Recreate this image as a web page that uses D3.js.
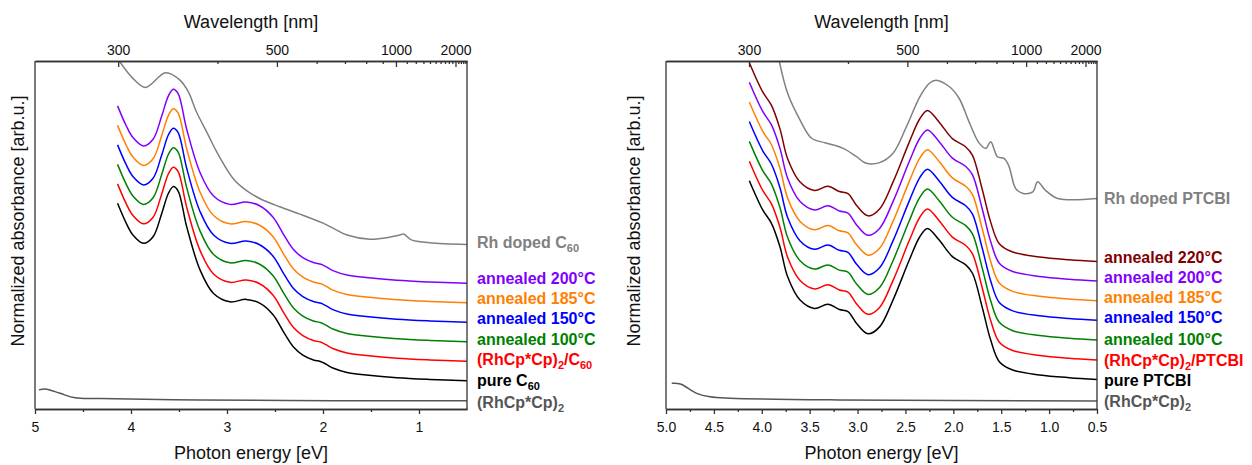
<!doctype html>
<html lang="en">
<head>
<meta charset="utf-8">
<title>Absorbance spectra C60 / PTCBI</title>
<script src="https://cdn.jsdelivr.net/npm/d3@7"></script>
<style>
  body { margin: 0; background: #fff; }
  svg text { font-family: Arial, "Liberation Sans", sans-serif; fill: #111; }
  .axis path, .axis line { stroke: #333; stroke-width: 1.3px; }
  .axis text { font-size: 14px; fill: #111; font-family: Arial, "Liberation Sans", sans-serif; }
  .title { font-size: 18px; }
  .lbl { font-size: 16px; font-weight: bold; }
  .spec { fill: none; stroke-width: 1.5px; stroke-linejoin: round; }
</style>
</head>
<body>
<svg id="fig" width="1252" height="465"></svg>
<script>
// ---- data: photon energy [eV], absorbance [arb.u., 0..100 = plot height] ----

// left panel: C60
const pureC60 = [[4.14,59.1],[4.05,53.4],[3.98,50.0],[3.87,47.6],[3.77,49.5],[3.68,56.2],[3.61,62.0],
  [3.56,63.9],[3.51,62.7],[3.42,52.4],[3.28,39.9],[3.14,33.2],[2.97,30.8],[2.80,31.5],[2.66,30.4],
  [2.52,27.1],[2.41,22.1],[2.31,17.9],[2.21,15.5],[2.10,14.1],[2.02,13.6],[1.97,12.9],[1.89,11.7],
  [1.75,10.5],[1.55,9.8],[1.23,9.0],[0.89,8.5],[0.5,8.1]];
const rhDopedC60 = [[4.13,100.3],[3.98,95.0],[3.85,92.4],[3.64,96.6],[3.49,94.5],[3.40,91.0],[3.32,85.5],
  [3.20,79.0],[3.11,74.0],[2.93,66.0],[2.80,62.8],[2.66,60.5],[2.45,58.1],[2.24,56.0],[2.00,53.4],
  [1.89,51.9],[1.75,50.0],[1.51,48.8],[1.30,49.4],[1.20,50.0],[1.16,50.3],[1.08,48.6],[0.89,47.8],[0.5,47.3]];
const rhcpLeft = [[4.96,5.5],[4.88,5.7],[4.74,4.5],[4.58,3.2],[4.32,3.0],[3.28,2.6],[1.89,2.4],[0.5,2.4]];
// stacked (offset) spectra, bottom to top
const c60Names = ["pure C_{60}", "(RhCp*Cp)_{2}/C_{60}", "annealed 100°C", "annealed 150°C", "annealed 185°C", "annealed 200°C"];
const c60Offsets = [0, 5.6, 11.2, 16.8, 22.4, 28.0];

// right panel: PTCBI
const purePTCBI = [[4.13,65.6],[3.99,57.2],[3.90,53.4],[3.81,46.6],[3.73,38.0],[3.60,31.3],[3.45,28.9],
  [3.31,30.1],[3.19,28.6],[3.10,28.0],[3.01,24.6],[2.89,21.6],[2.77,23.6],[2.63,31.3],[2.46,42.8],
  [2.35,49.5],[2.27,51.9],[2.15,48.6],[2.01,43.8],[1.87,41.4],[1.80,39.0],[1.70,29.4],[1.61,19.8],
  [1.52,13.6],[1.38,11.2],[1.10,9.8],[0.79,9.0],[0.5,8.5]];
const rhDopedPTCBI = [[3.82,100.3],[3.73,90.7],[3.60,83.0],[3.48,77.8],[3.34,76.5],[3.15,74.9],[3.01,72.5],
  [2.91,70.6],[2.77,70.8],[2.63,73.5],[2.49,81.1],[2.35,89.7],[2.25,93.6],[2.18,94.5],[2.04,92.6],
  [1.94,89.3],[1.83,82.1],[1.73,76.4],[1.66,74.9],[1.61,76.8],[1.54,72.5],[1.47,72.0],[1.42,69.8],
  [1.35,63.4],[1.28,62.0],[1.17,62.4],[1.12,65.3],[1.04,62.9],[0.91,60.5],[0.5,60.5]];
const rhcpRight = [[4.94,7.4],[4.85,7.2],[4.68,4.5],[4.54,3.5],[4.33,3.1],[3.19,2.6],[0.5,2.3]];
const ptcbiNames = ["pure PTCBI", "(RhCp*Cp)_{2}/PTCBI", "annealed 100°C", "annealed 150°C", "annealed 185°C", "annealed 200°C", "annealed 220°C"];
const ptcbiOffsets = [0, 5.6, 11.3, 17.0, 22.6, 28.3, 33.9];

// top axis (wavelength, nm)
const nmMajor = [300, 500, 1000, 2000];
const nmMinor = d3.range(300, 2500, 100).filter(d => !nmMajor.includes(d));

// colours, bottom to top
const stackColors = ["#000000", "#ff0000", "#008000", "#0000ff", "#ff8000", "#8000ff", "#800000"];
const dopedColor = "#808080";
const rhcpColor = "#555555";

// ---- layout ----
const svg = d3.select("#fig");
const yTop = 61, yBot = 409;
const y = d3.scaleLinear().domain([0, 100]).range([yBot, yTop]);

const panels = [
  { x0: 35, x1: 467, ylab: 18, base: pureC60, names: c60Names, offs: c60Offsets,
    doped: rhDopedC60, dopedName: "Rh doped C_{60}", rhcp: rhcpLeft,
    bMajor: [5, 4, 3, 2, 1], bMinor: [4.5, 3.5, 2.5, 1.5], bFmt: d3.format("d"),
    labY: [381, 360, 340, 319, 299, 279], dopedY: 243, rhcpY: 403, labDx: 10 },
  { x0: 666, x1: 1097, ylab: 634, base: purePTCBI, names: ptcbiNames, offs: ptcbiOffsets,
    doped: rhDopedPTCBI, dopedName: "Rh doped PTCBI", rhcp: rhcpRight,
    bMajor: d3.range(5, 0.4, -0.5), bMinor: d3.range(4.75, 0.5, -0.5), bFmt: d3.format(".1f"),
    labY: [381, 361, 340, 318, 298, 278, 258], dopedY: 199, rhcpY: 402, labDx: 7 }
];

// "_{..}" -> subscript tspan
function richText(sel, str) {
  const parts = str.split(/(_\{[^}]*\})/).filter(s => s.length);
  let down = false;
  parts.forEach(p => {
    const sub = p.startsWith("_{");
    const t = sel.append("tspan").text(sub ? p.slice(2, -1) : p);
    if (sub) { t.attr("dy", 4).style("font-size", "11px"); down = true; }
    else if (down) { t.attr("dy", -4); down = false; }
  });
}

panels.forEach((p, i) => {
  const x = d3.scaleLinear().domain([5, 0.5]).range([p.x0, p.x1]);
  const line = d3.line().x(d => x(d[0])).y(d => y(d[1])).curve(d3.curveCatmullRom.alpha(0.5));

  svg.append("clipPath").attr("id", "clip" + i)
    .append("rect").attr("x", p.x0).attr("y", yTop).attr("width", p.x1 - p.x0).attr("height", yBot - yTop);

  const g = svg.append("g").attr("clip-path", `url(#clip${i})`);

  g.append("path").attr("class", "spec").attr("d", line(p.rhcp)).attr("stroke", rhcpColor);
  g.append("path").attr("class", "spec").attr("d", line(p.doped)).attr("stroke", dopedColor);
  p.offs.forEach((o, k) => {
    g.append("path").attr("class", "spec")
      .attr("d", line(p.base.map(d => [d[0], d[1] + o])))
      .attr("stroke", stackColors[k]);
  });

  // axes
  svg.append("g").attr("class", "axis").attr("transform", `translate(0,${yBot})`)
    .call(d3.axisBottom(x).tickValues(p.bMinor).tickFormat("").tickSizeInner(3).tickSizeOuter(0));
  svg.append("g").attr("class", "axis").attr("transform", `translate(0,${yBot})`)
    .call(d3.axisBottom(x).tickValues(p.bMajor).tickFormat(p.bFmt).tickSizeInner(5).tickSizeOuter(0).tickPadding(8));

  svg.append("g").attr("class", "axis").attr("transform", `translate(0,${yTop})`)
    .call(d3.axisTop(x).tickValues(nmMinor.map(n => 1240 / n)).tickFormat("").tickSizeInner(-3).tickSizeOuter(0));
  svg.append("g").attr("class", "axis").attr("transform", `translate(0,${yTop})`)
    .call(d3.axisTop(x).tickValues(nmMajor.map(n => 1240 / n)).tickFormat(d => Math.round(1240 / d))
      .tickSizeInner(-6).tickSizeOuter(0).tickPadding(6));

  [p.x0, p.x1].forEach(xx => {
    svg.append("line").attr("x1", xx).attr("x2", xx).attr("y1", yTop).attr("y2", yBot)
      .attr("stroke", "#333").attr("stroke-width", 1.3);
  });

  // titles
  const cx = (p.x0 + p.x1) / 2;
  svg.append("text").attr("class", "title").attr("x", cx).attr("y", 28).attr("text-anchor", "middle").text("Wavelength [nm]");
  svg.append("text").attr("class", "title").attr("x", cx).attr("y", 459).attr("text-anchor", "middle").text("Photon energy [eV]");
  svg.append("text").attr("class", "title").attr("text-anchor", "middle")
    .attr("transform", `translate(${p.ylab + 6},221) rotate(-90)`).text("Normalized absorbance [arb.u.]");

  // curve labels
  const lx = p.x1 + p.labDx;
  p.names.forEach((n, k) => {
    const t = svg.append("text").attr("class", "lbl").attr("x", lx).attr("y", p.labY[k] + 5).style("fill", stackColors[k]);
    richText(t, n);
  });
  richText(svg.append("text").attr("class", "lbl").attr("x", lx).attr("y", p.dopedY + 5).style("fill", dopedColor), p.dopedName);
  richText(svg.append("text").attr("class", "lbl").attr("x", lx).attr("y", p.rhcpY + 5).style("fill", rhcpColor), "(RhCp*Cp)_{2}");
});
</script>
</body>
</html>
